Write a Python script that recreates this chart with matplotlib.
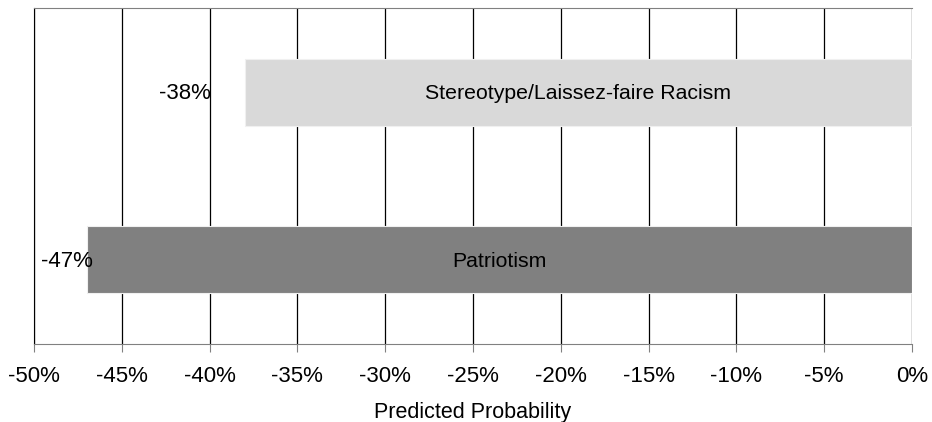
import matplotlib.pyplot as plt
import matplotlib.ticker as mticker

plt.rcParams["font.family"] = ["Liberation Sans", "DejaVu Sans"]

categories = ["Patriotism", "Stereotype/Laissez-faire Racism"]
values = [-47, -38]
colors = ["#808080", "#d9d9d9"]
value_labels = ["-47%", "-38%"]
label_offsets = [4.3, -24.5]   # points from bar end to right edge of value label

fig = plt.figure(figsize=(9.32, 4.22), dpi=100)
ax = fig.add_axes([0.0365, 0.186, 0.942, 0.794])

y = range(len(categories))
ax.barh(y, values, height=0.4, color=colors, edgecolor="#f0f0f0",
        linewidth=0.8, zorder=3)

for i in y:
    ax.text(values[i] / 2, i - 0.01, categories[i], ha="center", va="center",
            fontsize=15.3, zorder=4)
    ax.annotate(value_labels[i], xy=(values[i], i - 0.01),
                xytext=(label_offsets[i], 0), textcoords="offset points",
                ha="right", va="center", fontsize=16, zorder=4)

ax.set_xlim(-50, 0)
ax.set_ylim(-0.5, 1.5)
ax.xaxis.set_major_locator(mticker.MultipleLocator(5))
ax.xaxis.set_major_formatter(mticker.FuncFormatter(lambda v, p: f"{v:.0f}%"))
ax.set_yticks([])
ax.grid(axis="x", color="black", linewidth=0.9, zorder=0)

ax.spines["right"].set_visible(False)
ax.spines["top"].set_color("#808080")
ax.spines["bottom"].set_color("#808080")
ax.spines["left"].set_color("black")
ax.tick_params(axis="x", direction="out", length=6, color="#808080",
               labelsize=16, pad=10)

ax.set_xlabel("Predicted Probability", fontsize=15.5, labelpad=11)

fig.savefig("out.png", dpi=100)
plt.close()
